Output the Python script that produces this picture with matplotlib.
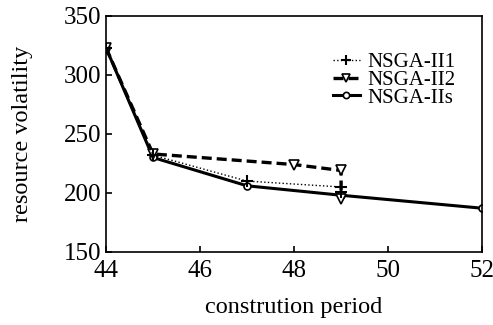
import matplotlib
matplotlib.use("Agg")
import matplotlib.pyplot as plt

plt.rcParams['font.family'] = ['Liberation Serif']

x1 = [44, 45, 47, 49, 49]
y1 = [323, 232, 210, 205, 201]
x2 = [44, 45, 48, 49, 49]
y2 = [323, 233, 224, 219, 195]
xs = [44, 45, 47, 49, 52]
ys = [323, 230, 206, 198, 187]
labels = ['NSGA-II1', 'NSGA-II2', 'NSGA-IIs']
xticks = [44, 46, 48, 50, 52]
yticks = [150, 200, 250, 300, 350]

fig = plt.figure(figsize=(4.93, 3.25), dpi=100)
ax = fig.add_axes([0.215, 0.225, 0.763, 0.726])

ax.plot(xs, ys, '-', color='black', lw=2.2, marker='o', ms=5,
        mfc='white', mec='black', mew=1.2, label=labels[2], zorder=2)
ax.plot(x2, y2, '--', color='black', lw=2.4, dashes=(3, 1.5), marker='v', ms=7,
        mfc='white', mec='black', mew=1.2, label=labels[1], zorder=3)
ax.plot(x1, y1, ':', color='black', lw=1.0, marker='+', ms=8,
        mec='black', mew=1.5, label=labels[0], zorder=4)

ax.set_xlim(44, 52)
ax.set_ylim(150, 350)
ax.set_xticks(xticks)
ax.set_yticks(yticks)
ax.tick_params(direction='in', labelsize=18, length=4, width=1.2)
ax.tick_params(axis='x', pad=6)
for s in ax.spines.values():
    s.set_linewidth(1.2)
ax.set_xlabel('constrution period', fontsize=17.5, labelpad=11)
ax.set_ylabel('resource volatility', fontsize=17.5, labelpad=22)

h, l = ax.get_legend_handles_labels()
order = [2, 1, 0]
leg = ax.legend([h[i] for i in order], [l[i] for i in order], frameon=False,
                fontsize=15, loc='upper left', bbox_to_anchor=(0.575, 0.89),
                handlelength=1.3, handletextpad=0.35, labelspacing=-0.08,
                markerscale=0.9, borderpad=0)

fig.savefig('out.png', dpi=100)
